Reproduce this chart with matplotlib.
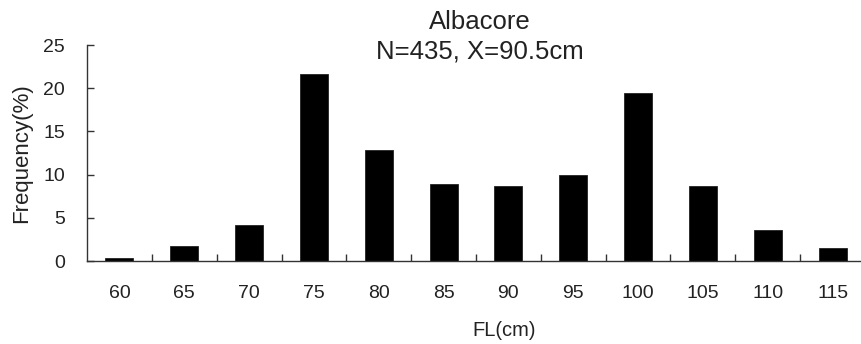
import numpy as np
import matplotlib
matplotlib.use('Agg')
import matplotlib.pyplot as plt

# length classes (cm) and frequency (%)
length_classes = [60, 65, 70, 75, 80, 85, 90, 95, 100, 105, 110, 115]
frequency = [0.35, 1.75, 4.2, 21.6, 12.9, 8.9, 8.7, 9.9, 19.4, 8.7, 3.6, 1.55]
y_ticks = [0, 5, 10, 15, 20, 25]

title_line1 = 'Albacore'
title_line2 = 'N=435, X=90.5cm'

text_font = ['Liberation Sans', 'DejaVu Sans']
ink = '#222222'

fig = plt.figure(figsize=(8.61, 3.44), dpi=100)
# axes runs a bit past the right edge, like the original
ax = fig.add_axes([87/861, 1 - 261/344, 778/861, 216/344])

x = np.arange(len(length_classes))
ax.bar(x, frequency, width=0.43, color='black', edgecolor='#222222', linewidth=0.6)

ax.set_xlim(-0.5, len(length_classes) - 0.5)
ax.set_ylim(0, 25)

for side in ['top', 'right']:
    ax.spines[side].set_visible(False)
for side in ['left', 'bottom']:
    ax.spines[side].set_color('#333333')
    ax.spines[side].set_linewidth(1.0)

# labels at class centres, tick marks between classes
ax.set_xticks(x)
ax.set_xticklabels([str(v) for v in length_classes], family=text_font, fontsize=14, color=ink)
ax.set_xticks(np.arange(0.5, len(length_classes) - 0.5, 1), minor=True)
ax.tick_params(axis='x', which='major', length=0, pad=17)
ax.tick_params(axis='x', which='minor', direction='in', length=5, width=1.0, color='#333333')

ax.set_yticks(y_ticks)
ax.set_yticklabels([str(v) for v in y_ticks], family=text_font, fontsize=14, color=ink)
ax.tick_params(axis='y', direction='in', length=5, width=1.0, color='#333333', pad=16)

ax.set_ylabel('Frequency(%)', family=text_font, fontsize=16, color=ink)
ax.yaxis.set_label_coords(-0.07, 0.5)

fig.text(504/861, 1 - 330/344, 'FL(cm)', family=text_font, fontsize=14.5,
         ha='center', va='center', color=ink)

fig.text(480/861, 1 - 22/344, title_line1, family=text_font, fontsize=18.5,
         ha='center', va='center', color=ink)
fig.text(480/861, 1 - 51/344, title_line2, family=text_font, fontsize=18.5,
         ha='center', va='center', color=ink)

fig.savefig('out.png', dpi=100)
